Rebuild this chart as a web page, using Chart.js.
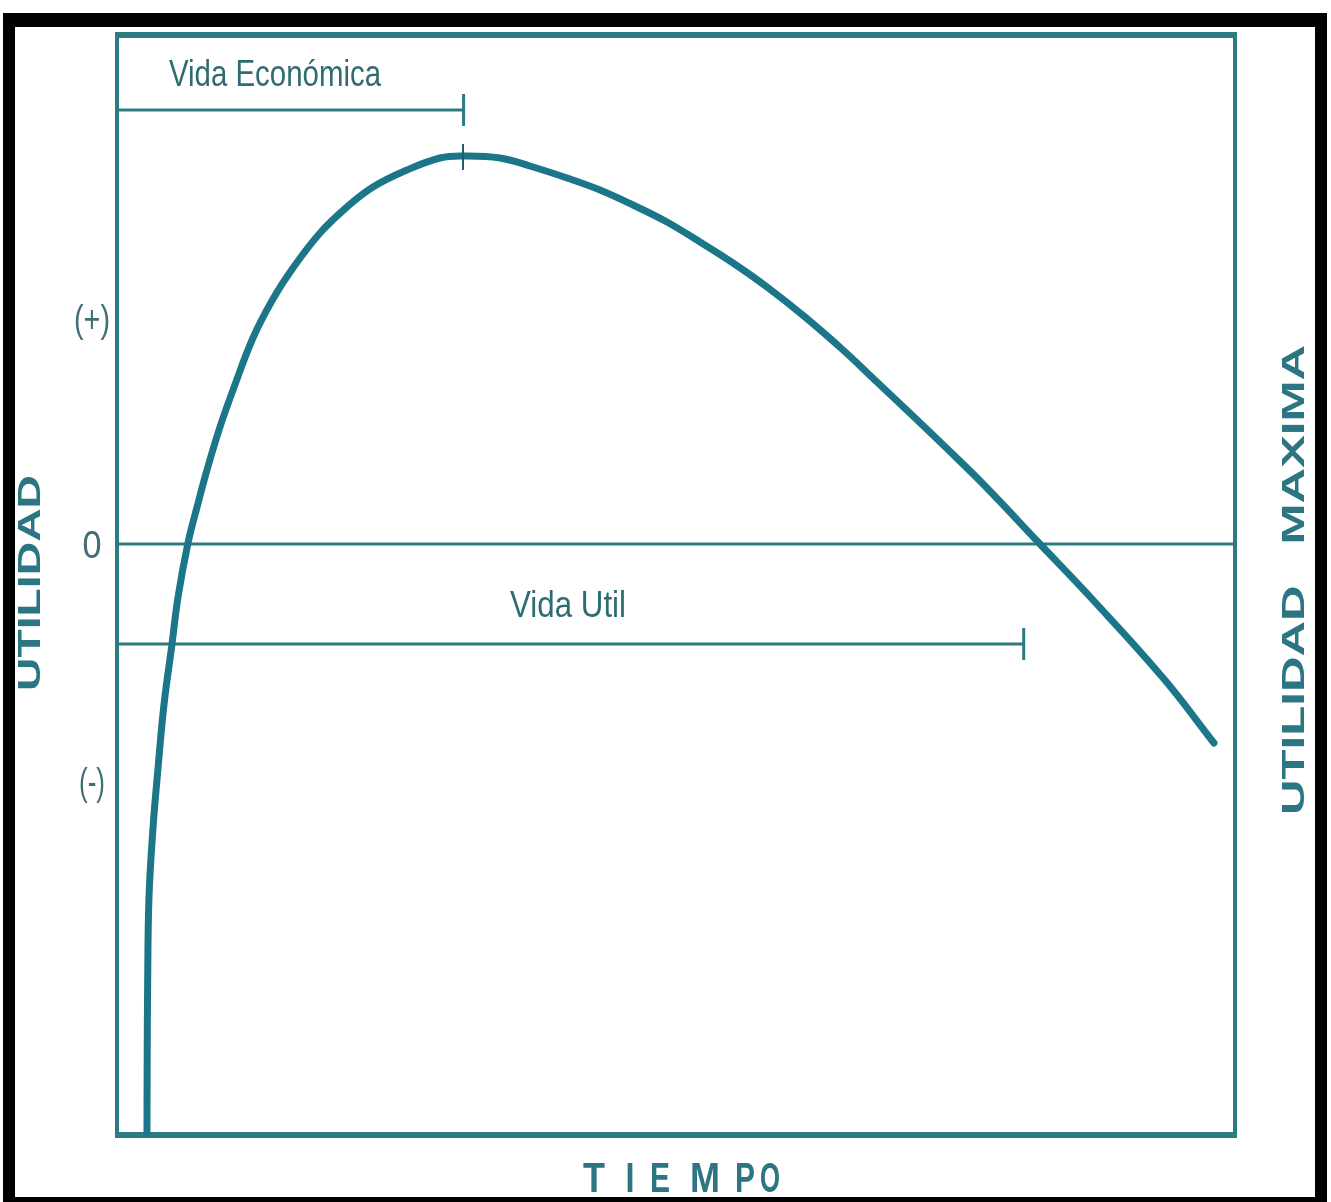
<!DOCTYPE html>
<html lang="es">
<head>
    <meta charset="UTF-8">
    <title>Vida económica y vida útil</title>
    <script src="https://cdn.jsdelivr.net/npm/chart.js@4.4.1/dist/chart.umd.min.js"></script>
    <style>
        html, body { margin: 0; padding: 0; background: #ffffff; }
        canvas { display: block; }
    </style>
</head>
<body>
    <canvas id="grafico" width="1331" height="1202"></canvas>

    <script>
        // Curva de utilidad en el tiempo (unidades arbitrarias)
        const tiempo = [2.68, 2.70, 2.74, 2.86, 3.22, 3.67, 4.20, 4.92, 5.46, 6.35, 7.16, 8.05, 9.21, 10.38,
                        12.16, 13.95, 15.74, 18.16, 20.57, 22.90, 25.94, 28.89, 30.95, 34.26, 37.21, 40.25,
                        43.20, 46.15, 49.19, 52.15, 55.10, 58.14, 61.54, 64.94, 68.07, 71.29, 74.51, 77.73,
                        82.47, 87.30, 93.65, 98.12];
        const utilidad = [-59.1, -51.6, -44.2, -35.4, -28.4, -22.4, -16.1, -10.0, -5.3, 0.1, 3.7, 7.4, 11.7, 15.4,
                          20.6, 24.5, 27.6, 31.1, 33.7, 35.7, 37.4, 38.6, 38.8, 38.6, 37.7, 36.6,
                          35.4, 33.9, 32.2, 30.2, 28.1, 25.7, 22.7, 19.4, 16.1, 12.7, 9.25, 5.7,
                          0.1, -5.6, -13.5, -19.9];

        // Límites de los ejes
        const xMin = 0, xMax = 100;
        const yMin = -59.1, yMax = 50.9;

        // Tramos de vida (inicio, fin, nivel)
        const vidaEconomica = { inicio: 0, fin: 31.0, nivel: 43.4 };
        const vidaUtil = { inicio: 0, fin: 81.1, nivel: -10.0 };
        const altoMarca = 1.6;

        // Marca sobre el máximo
        const marcaMaximo = { x: 30.95, desde: 37.4, hasta: 40.0 };

        // Textos del eje vertical
        const etiquetasY = ['(+)', '0', '(-)'];
        const nivelesEtiquetasY = [22.2, -0.4, -24.1];

        const colorCurva = '#1b7689';
        const colorLinea = '#2d7a80';
        const colorTexto = '#2b7682';

        const puntosCurva = tiempo.map((t, i) => ({ x: t, y: utilidad[i] }));

        function tramo(v) {
            return [
                { x: v.inicio, y: v.nivel },
                { x: v.fin, y: v.nivel },
                { x: v.fin, y: v.nivel + altoMarca },
                { x: v.fin, y: v.nivel - altoMarca }
            ];
        }

        // Texto comprimido a un ancho dado
        function textoAncho(ctx, texto, cx, cy, ancho, fuente, rot) {
            ctx.save();
            ctx.font = fuente;
            ctx.textAlign = 'center';
            ctx.textBaseline = 'middle';
            ctx.translate(cx, cy);
            if (rot) ctx.rotate(rot);
            const w = ctx.measureText(texto).width;
            ctx.scale(ancho / w, 1);
            ctx.fillText(texto, 0, 0);
            ctx.restore();
        }

        const marcoYTextos = {
            id: 'marcoYTextos',
            beforeDraw(chart) {
                const ctx = chart.ctx;
                ctx.save();
                ctx.fillStyle = '#ffffff';
                ctx.fillRect(0, 0, chart.width, chart.height);
                ctx.fillStyle = '#000000';
                ctx.fillRect(3, 13, 1324, 1189);
                ctx.fillStyle = '#ffffff';
                ctx.fillRect(15, 27, 1300, 1170);
                ctx.restore();
            },
            beforeDatasetsDraw(chart) {
                const ctx = chart.ctx;
                const a = chart.chartArea;
                ctx.save();
                ctx.strokeStyle = colorLinea;
                ctx.lineWidth = 4;
                ctx.strokeRect(a.left, a.top, a.right - a.left, a.bottom - a.top);
                // bordes superior e inferior algo más gruesos
                ctx.lineWidth = 6;
                ctx.beginPath();
                ctx.moveTo(a.left - 2, a.top);
                ctx.lineTo(a.right + 2, a.top);
                ctx.moveTo(a.left - 2, a.bottom);
                ctx.lineTo(a.right + 2, a.bottom);
                ctx.stroke();
                ctx.restore();
            },
            afterDraw(chart) {
                const ctx = chart.ctx;
                const sy = chart.scales.y;
                ctx.save();

                // Etiquetas de los tramos
                ctx.fillStyle = '#2f6c72';
                textoAncho(ctx, 'Vida Económica', 275, 76, 212, '36px "Liberation Sans"');
                textoAncho(ctx, 'Vida Util', 568, 607, 116, '36px "Liberation Sans"');

                // (+), 0, (-)
                ctx.fillStyle = '#3f6f74';
                etiquetasY.forEach((t, i) => {
                    const y = sy.getPixelForValue(nivelesEtiquetasY[i]);
                    const ancho = t === '0' ? 19 : (t === '(+)' ? 36 : 26);
                    textoAncho(ctx, t, 92, y, ancho, '38px "Liberation Sans"');
                });

                // Títulos de los ejes
                ctx.fillStyle = colorTexto;
                textoAncho(ctx, 'UTILIDAD', 31, 583, 216, 'bold 31px "Liberation Sans"', -Math.PI / 2);
                textoAncho(ctx, 'UTILIDAD   MAXIMA', 1295, 580, 470, 'bold 31px "Liberation Sans"', -Math.PI / 2);

                // TIEMPO con letras espaciadas
                const letras = ['T', 'I', 'E', 'M', 'P', 'O'];
                const centros = [594, 630, 660, 705, 745, 770];
                const anchos = [22, 9, 20, 30, 20, 20];
                letras.forEach((l, i) => {
                    textoAncho(ctx, l, centros[i], 1180, anchos[i], 'bold 42px "Liberation Sans"');
                });

                ctx.restore();
            }
        };

        window.onload = function() {
            const ctx = document.getElementById('grafico').getContext('2d');
            new Chart(ctx, {
                type: 'line',
                data: {
                    datasets: [
                        {
                            label: 'Utilidad',
                            data: puntosCurva,
                            borderColor: colorCurva,
                            borderWidth: 7,
                            pointRadius: 0,
                            tension: 0.4,
                            borderCapStyle: 'round',
                            borderJoinStyle: 'round',
                            fill: false,
                            order: 0
                        },
                        {
                            label: 'Cero',
                            data: [{ x: xMin, y: 0 }, { x: xMax, y: 0 }],
                            borderColor: colorLinea,
                            borderWidth: 3,
                            pointRadius: 0,
                            order: 1
                        },
                        {
                            label: 'Vida Económica',
                            data: tramo(vidaEconomica),
                            borderColor: colorLinea,
                            borderWidth: 3,
                            pointRadius: 0,
                            tension: 0,
                            order: 1
                        },
                        {
                            label: 'Vida Util',
                            data: tramo(vidaUtil),
                            borderColor: colorLinea,
                            borderWidth: 3,
                            pointRadius: 0,
                            tension: 0,
                            order: 1
                        },
                        {
                            label: 'Máximo',
                            data: [{ x: marcaMaximo.x, y: marcaMaximo.hasta }, { x: marcaMaximo.x, y: marcaMaximo.desde }],
                            borderColor: '#1d5f6a',
                            borderWidth: 2,
                            pointRadius: 0,
                            order: -1
                        }
                    ]
                },
                options: {
                    responsive: false,
                    animation: false,
                    layout: {
                        padding: { left: 117, right: 96, top: 35, bottom: 67 }
                    },
                    scales: {
                        x: { type: 'linear', min: xMin, max: xMax, display: false },
                        y: { type: 'linear', min: yMin, max: yMax, display: false }
                    },
                    plugins: {
                        legend: { display: false },
                        tooltip: { enabled: false }
                    }
                },
                plugins: [marcoYTextos]
            });
        };
    </script>
</body>
</html>
